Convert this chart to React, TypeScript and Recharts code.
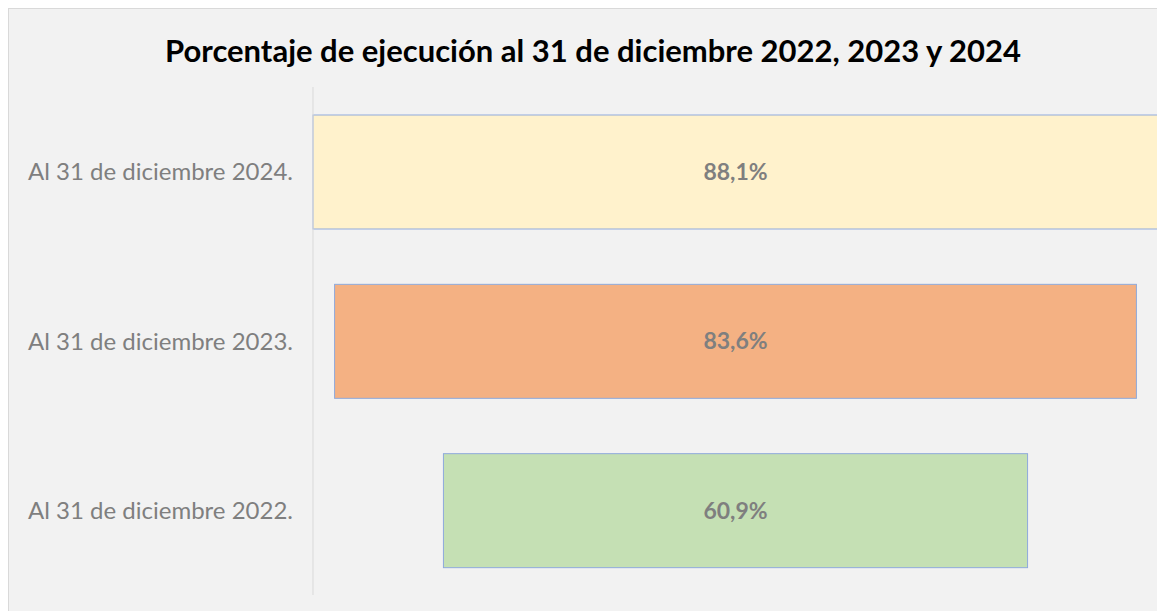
import { BarChart, Bar, XAxis, YAxis, LabelList } from "recharts";

const categorias = [
  "Al 31 de diciembre 2024.",
  "Al 31 de diciembre 2023.",
  "Al 31 de diciembre 2022.",
];
const porcentajes = [88.1, 83.6, 60.9];
const colores = ["#fff2cc", "#f4b183", "#c5e0b4"];

const maximo = Math.max(...porcentajes);

// embudo: un tramo invisible centra cada barra
const datos = categorias.map((nombre, i) => ({
  nombre,
  relleno: (maximo - porcentajes[i]) / 2,
  valor: porcentajes[i],
  color: colores[i],
}));

const formato = (v: number) => v.toFixed(1).replace(".", ",") + "%";

export default function App() {
  return (
    <div
      style={{
        position: "relative",
        width: 1157,
        height: 603,
        background: "#f2f2f2",
        borderTop: "1px solid #d9d9d9",
        borderLeft: "1px solid #d9d9d9",
        boxSizing: "border-box",
        fontFamily: "Lato, 'Open Sans', sans-serif",
      }}
    >
      <div
        style={{
          position: "absolute",
          top: 22,
          left: 0,
          width: 1168,
          textAlign: "center",
          fontSize: 31,
          fontWeight: "bold",
          color: "#000",
        }}
      >
        Porcentaje de ejecución al 31 de diciembre 2022, 2023 y 2024
      </div>
      <BarChart
        width={1156}
        height={602}
        data={datos}
        layout="vertical"
        barSize={114}
        margin={{ top: 78, right: 7, bottom: 16, left: 0 }}
      >
        <XAxis type="number" domain={[0, maximo]} hide />
        <YAxis
          type="category"
          dataKey="nombre"
          width={304}
          axisLine={{ stroke: "#d9d9d9" }}
          tickLine={false}
          tickSize={0}
          tickMargin={20}
          tick={{ fill: "#7f7f7f", fontSize: 24, fontFamily: "Lato, sans-serif" }}
        />
        <Bar dataKey="relleno" stackId="a" fill="transparent" isAnimationActive={false} />
        <Bar
          dataKey="valor"
          stackId="a"
          stroke="#8faadc"
          strokeWidth={1}
          isAnimationActive={false}
          shape={(p: any) => (
            <rect x={p.x} y={p.y} width={p.width} height={p.height} fill={p.payload.color} stroke="#8faadc" strokeWidth={1} />
          )}
        >
          <LabelList
            dataKey="valor"
            position="center"
            formatter={(v: any) => formato(Number(v))}
            fill="#7f7f7f"
            fontSize={23}
            fontWeight="bold"
            fontFamily="Lato, sans-serif"
          />
        </Bar>
      </BarChart>
    </div>
  );
}
